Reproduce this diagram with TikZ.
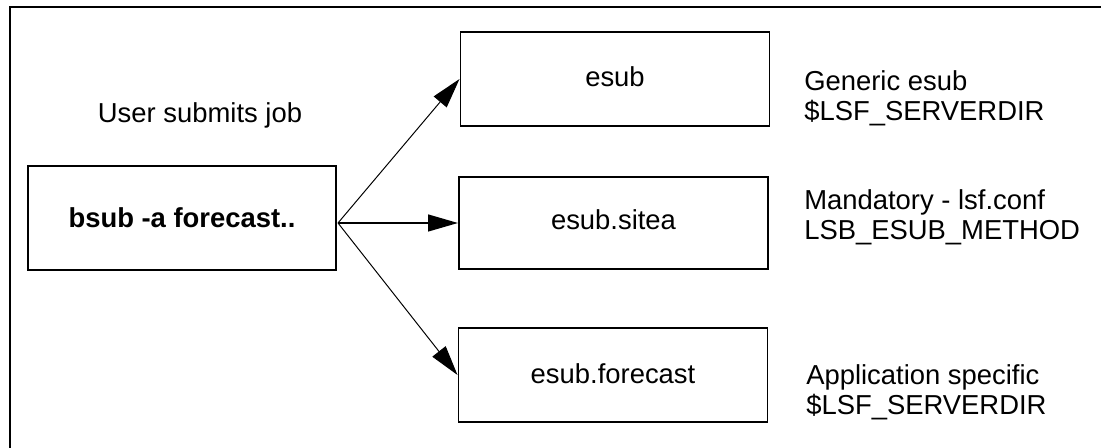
\documentclass[tikz,border=0pt]{standalone}
\usepackage{fontspec}
\setmainfont{Liberation Sans}
\usetikzlibrary{arrows.meta}
\tikzset{
    esubbox/.style={draw,line width=1.4pt,inner sep=0pt,minimum width=7.725cm,minimum height=2.35cm},
    note/.style={align=left,anchor=west,inner sep=0pt},
    tip/.style={-{Triangle[length=0.75cm,width=0.42cm]}}
}
\begin{document}
\begin{tikzpicture}[font=\fontsize{19.5}{21.5}\selectfont]
    \useasboundingbox (0,0) rectangle (27.525,11.2);
    % outer frame (open at right and bottom)
    \draw[line width=1.2pt] (0.25,0) -- (0.25,11.025) -- (27.525,11.025);
    \begin{scope}[every node/.style={esubbox}]
    \node[minimum width=7.7cm,minimum height=2.6cm] (bsub) at (4.55,5.75) {\textbf{bsub -a forecast..}};
    \node (esub) at (15.375,9.225) {\raisebox{0.1cm}{esub}};
    \node[minimum height=2.3cm] (sitea) at (15.3375,5.625) {\raisebox{0.15cm}{esub.sitea}\hspace{0.6cm}};
    \node (forecast) at (15.325,1.825) {\raisebox{0.08cm}{esub.forecast}};
    \end{scope}
    \node (user) at (5.0,8.325) {User submits job};
    \node[note] (generic) at (20.1,8.75) {Generic esub\\\$LSF\_SERVERDIR};
    \node[note] (mandatory) at (20.1,5.7625) {Mandatory - lsf.conf\\LSB\_ESUB\_METHOD};
    \node[note] (appl) at (20.15,1.4) {Application specific\\\$LSF\_SERVERDIR};
    \coordinate (fork) at (8.45,5.625);
    \begin{scope}[every edge/.style={draw=black,tip,line width=0.7pt}]
    \path (fork) edge (esub.west);
    \path (fork) edge[line width=1.4pt] (sitea.west);
    \path (fork) edge (forecast.west);
    \end{scope}
\end{tikzpicture}
\end{document}
